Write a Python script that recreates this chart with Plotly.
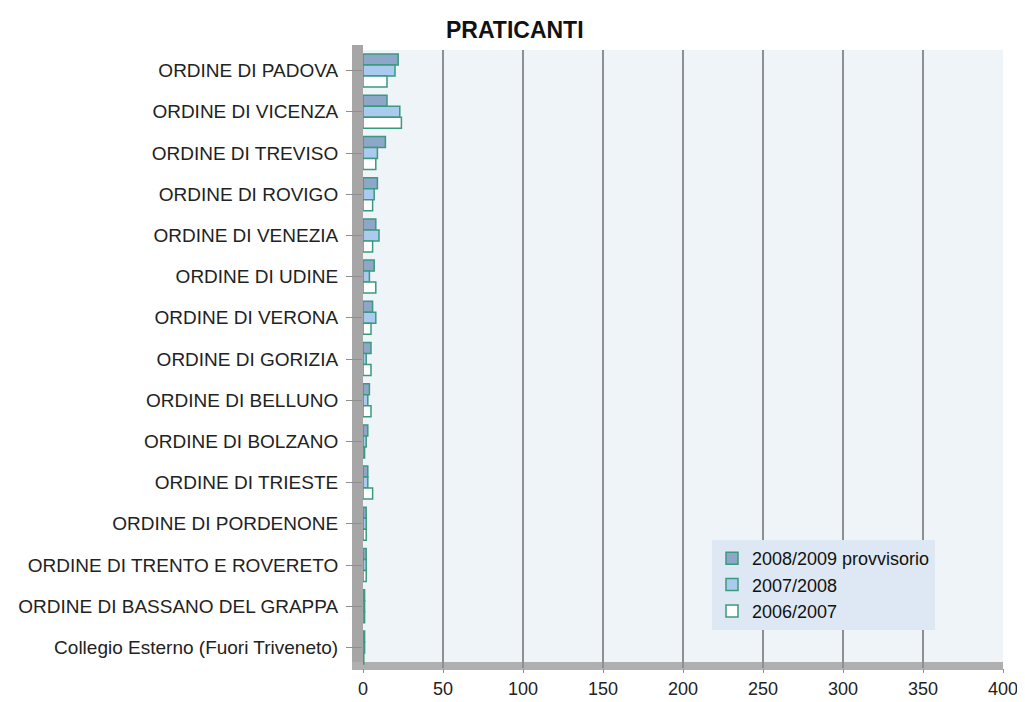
import plotly.graph_objects as go

categories = [
    "ORDINE DI PADOVA", "ORDINE DI VICENZA", "ORDINE DI TREVISO", "ORDINE DI ROVIGO",
    "ORDINE DI VENEZIA", "ORDINE DI UDINE", "ORDINE DI VERONA", "ORDINE DI GORIZIA",
    "ORDINE DI BELLUNO", "ORDINE DI BOLZANO", "ORDINE DI TRIESTE", "ORDINE DI PORDENONE",
    "ORDINE DI TRENTO E ROVERETO", "ORDINE DI BASSANO DEL GRAPPA",
    "Collegio Esterno (Fuori Triveneto)",
]
series_names = ["2008/2009 provvisorio", "2007/2008", "2006/2007"]
v_2008_2009 = [22, 15, 14, 9, 8, 7, 6, 5, 4, 3, 3, 2, 2, 1, 1]
v_2007_2008 = [20, 23, 9, 7, 10, 4, 8, 2, 3, 2, 3, 2, 2, 1, 1]
v_2006_2007 = [15, 24, 8, 6, 6, 8, 5, 5, 5, 1, 6, 2, 2, 1, 0.5]
x_ticks = [0, 50, 100, 150, 200, 250, 300, 350, 400]

fills = ["#8ea6c8", "#aacbef", "#ffffff"]
edge = "#3a9a7e"

fig = go.Figure()
for name, vals, col in zip(series_names, [v_2008_2009, v_2007_2008, v_2006_2007], fills):
    fig.add_trace(go.Bar(
        y=categories, x=vals, name=name, orientation="h",
        marker=dict(color=col, line=dict(color=edge, width=1.5)),
    ))

# page shows the figure offset by 8px (body margin)
OFF = 8
FW, FH = 1025 - OFF, 702 - OFF
L, R, T, B = 363 - OFF, 22, 50 - OFF, FH - (668 - OFF)
W = FW - L - R
H = FH - T - B

fig.update_layout(
    width=FW, height=FH,
    margin=dict(l=L, r=R, t=T, b=B, autoexpand=False),
    paper_bgcolor="white",
    plot_bgcolor="#eef4f8",
    barmode="group",
    bargap=0.2, bargroupgap=0.0,
    font=dict(family="Liberation Sans, Arial", size=19, color="#222222"),
    showlegend=True,
    legend=dict(
        x=(712 - OFF - L) / W, y=(FH - B - (540 - OFF)) / H, xanchor="left", yanchor="top",
        bgcolor="#dde8f4", borderwidth=0,
        font=dict(size=18, color="#111111"),
        itemwidth=30, tracegroupgap=0,
    ),
    xaxis=dict(
        range=[0, 400], tickvals=x_ticks, showgrid=True,
        gridcolor="#8f8f8f", gridwidth=2,
        zeroline=False, showline=False,
        ticks="outside", ticklen=4, tickcolor="#8f8f8f",
        ticklabelstandoff=0, automargin=False,
        tickfont=dict(size=18, color="#222222"),
        fixedrange=True,
    ),
    yaxis=dict(
        categoryorder="array", categoryarray=categories,
        autorange="reversed",
        showgrid=False, zeroline=False, showline=False,
        ticks="outside", ticklen=16, tickcolor="#8f8f8f",
        ticklabelstandoff=4, automargin=False,
        tickfont=dict(size=19, color="#222222"),
        fixedrange=True,
    ),
    annotations=[dict(
        text="<b>PRATICANTI</b>", x=(515 - OFF - L) / W, y=1 + (T - (30 - OFF)) / H,
        xref="paper", yref="paper", xanchor="center", yanchor="middle",
        showarrow=False, font=dict(size=23, color="#111111"),
    )],
)

# left wall and floor (3D look)
fig.add_shape(type="rect", xref="paper", yref="paper",
              x0=-11 / W, x1=0, y0=0, y1=1 + 5 / H,
              fillcolor="#a6a6a6", line=dict(width=0), layer="below")
fig.add_shape(type="rect", xref="paper", yref="paper",
              x0=-11 / W, x1=1, y0=-2 / H, y1=6 / H,
              fillcolor="#b0b0b0", line=dict(width=0), layer="below")

fig.write_html("out.html")
